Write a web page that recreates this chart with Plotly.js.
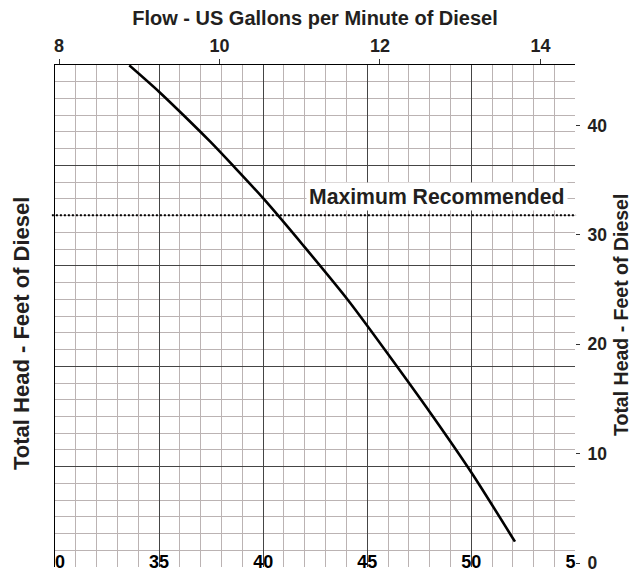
<!DOCTYPE html>
<html>
<head>
<meta charset="utf-8">
<script src="https://cdn.plot.ly/plotly-3.0.1.min.js"></script>
<style>html,body{margin:0;padding:0;background:#fff;}#chart{width:639px;height:572px;}</style>
</head>
<body>
<div id="chart"></div>
<script>
// Pump curve: flow (US gpm of diesel) vs total head (feet of diesel)
const flowGpm = [8.876, 9.246, 9.549, 9.882, 10.172, 10.546, 11.044, 11.605, 12.208, 12.664, 13.143, 13.682];
const headFt  = [45.5, 43.09, 40.96, 38.54, 36.30, 33.33, 29.03, 24.0, 18.01, 13.35, 8.23, 1.95];

// Top axis (flow) ticks
const flowTicks = [8, 10, 12, 14];
// Right axis (head) ticks
const headTicks = [0, 10, 20, 30, 40];
// Bottom scale labels (as visible, clipped at the plot edges)
const bottomTickVals = [30.24, 35, 40, 45, 50, 54.76];
const bottomTickText = ['0', '35', '40', '45', '50', '5'];

// Maximum recommended head line
const maxHead = 31.8;
const maxLabel = 'Maximum Recommended';
const maxLabelHead = 33.49;

const titleText = 'Flow - US Gallons per Minute of Diesel';
const yTitleText = 'Total Head - Feet of Diesel';

const dark = '#231f20';
const minorGrid = '#bbb3b3';
const majorGrid = '#454545';
const fam = 'Liberation Sans, Arial, sans-serif';

const traces = [
  {x: [], y: [], xaxis: 'x', yaxis: 'y', type: 'scatter', mode: 'lines', showlegend: false, hoverinfo: 'skip'},
  {x: [], y: [], xaxis: 'x3', yaxis: 'y', type: 'scatter', mode: 'lines', showlegend: false, hoverinfo: 'skip'},
  {x: flowGpm, y: headFt, xaxis: 'x2', yaxis: 'y2', type: 'scatter', mode: 'lines',
   line: {color: '#000', width: 2.6, shape: 'spline', smoothing: 0.8}, hoverinfo: 'skip', showlegend: false}
];

const layout = {
  width: 639, height: 572,
  margin: {l: 55, r: 64, t: 65, b: 5},
  paper_bgcolor: '#fff', plot_bgcolor: '#fff',
  showlegend: false,
  font: {family: fam, color: dark},
  title: {text: titleText, font: {family: fam, size: 20, weight: 'bold', color: dark},
          x: 0.5, xref: 'paper', xanchor: 'center', y: 1 - 18.3/572, yref: 'container', yanchor: 'middle'},
  xaxis: {range: [30, 54.98], tick0: 30, dtick: 5, showticklabels: false, ticks: '',
          showgrid: true, gridcolor: majorGrid, gridwidth: 1, zeroline: false, showline: false,
          minor: {dtick: 1, tick0: 30, showgrid: true, gridcolor: minorGrid, gridwidth: 1, ticks: ''}},
  xaxis3: {overlaying: 'x', side: 'bottom', anchor: 'free', position: (567 - 549)/502, range: [30, 54.98],
           tickmode: 'array', tickvals: bottomTickVals, ticktext: bottomTickText,
           ticks: '', showgrid: false, zeroline: false, showline: false,
           tickfont: {family: fam, size: 18, weight: 'bold', color: '#000'}},
  xaxis2: {overlaying: 'x', side: 'top', anchor: 'y', range: [7.9502, 14.430],
           tickmode: 'array', tickvals: flowTicks, ticks: 'outside', ticklen: 5, tickwidth: 1, tickcolor: '#333',
           showline: true, linecolor: '#000', linewidth: 1, showgrid: false, zeroline: false,
           tickfont: {family: fam, size: 18, weight: 'bold', color: dark}},
  yaxis: {range: [0.01, 30], tick0: 0, dtick: 6, showticklabels: false, ticks: '',
          showgrid: true, gridcolor: majorGrid, gridwidth: 1, zeroline: false,
          showline: true, linecolor: '#000', linewidth: 1,
          minor: {dtick: 1, tick0: 0, showgrid: true, gridcolor: minorGrid, gridwidth: 1, ticks: ''}},
  yaxis2: {overlaying: 'y', side: 'right', anchor: 'x', range: [-0.366, 45.53],
           tickmode: 'array', tickvals: headTicks, ticks: 'outside', ticklen: 4, tickwidth: 1, tickcolor: '#333',
           ticklabelstandoff: 4, ticklabeloverflow: 'allow', showgrid: false, zeroline: false, showline: false,
           tickfont: {family: fam, size: 17.5, weight: 'bold', color: dark}},
  shapes: [
    {type: 'line', xref: 'paper', yref: 'y2', x0: -0.006, x1: 1.002, y0: maxHead, y1: maxHead,
     line: {color: '#000', width: 2, dash: '2px,2px'}, layer: 'above'}
  ],
  annotations: [
    {text: maxLabel, xref: 'paper', yref: 'y2', x: (568 - 55)/520, y: maxLabelHead,
     xanchor: 'right', yanchor: 'middle', showarrow: false, bgcolor: '#fff', borderpad: 2,
     font: {family: fam, size: 21.2, weight: 'bold', color: dark}},
    {text: yTitleText, xref: 'paper', yref: 'paper', x: (21 - 55)/520, y: (567 - 334)/502,
     xanchor: 'center', yanchor: 'middle', textangle: -90, showarrow: false,
     font: {family: fam, size: 22, weight: 'bold', color: dark}},
    {text: yTitleText, xref: 'paper', yref: 'paper', x: (621 - 55)/520, y: (567 - 315)/502,
     xanchor: 'center', yanchor: 'middle', textangle: -90, showarrow: false,
     font: {family: fam, size: 19.5, weight: 'bold', color: dark}}
  ]
};

Plotly.newPlot('chart', traces, layout, {displayModeBar: false, staticPlot: true});
</script>
</body>
</html>
